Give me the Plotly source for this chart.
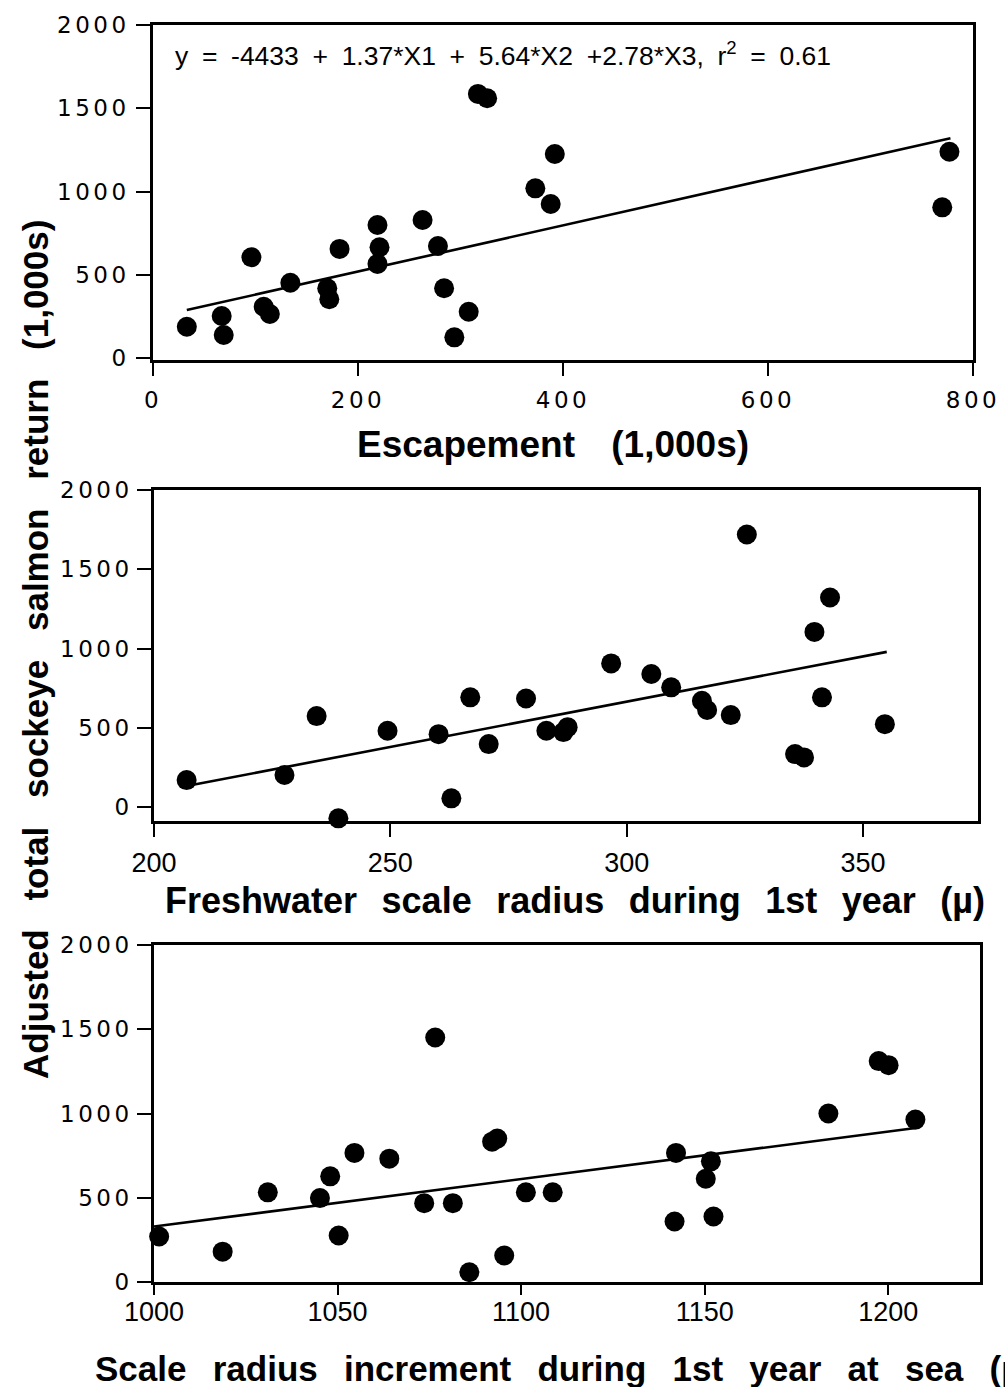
import plotly.graph_objects as go

W, H = 1005, 1387

# ---------------- data ----------------
esc = [33, 67, 69, 96, 108, 114, 121, 134, 170, 172, 182, 219, 221, 219, 263, 278,
       284, 308, 294, 317, 326, 392, 373, 388, 777, 770]
ret1 = [188, 252, 138, 605, 308, 264, -22, 452, 419, 353, 655, 799, 665, 565, 829, 673,
        419, 278, 124, 1586, 1560, 1225, 1019, 925, 1239, 905]

fw = [206.9, 227.6, 234.4, 239, 249.4, 260.2, 266.9, 270.8, 262.9, 278.7, 283, 286.6, 287.5,
      296.7, 305.2, 309.4, 315.9, 317, 322, 325.4, 343, 339.7, 341.3, 354.6, 335.6, 337.5]
ret2 = [170, 202, 574, -71, 481, 460, 692, 397, 55, 685, 481, 473, 504,
        906, 839, 755, 670, 612, 580, 1719, 1322, 1105, 692, 523, 334, 313]

sea = [1001.4, 1018.7, 1031, 1045.2, 1048, 1050.3, 1054.6, 1064.1, 1076.6, 1073.6, 1081.4,
       1085.9, 1092.1, 1093.5, 1095.4, 1101.3, 1108.6, 1142.2, 1151.7, 1150.3, 1141.8,
       1152.4, 1183.7, 1197.4, 1200.1, 1207.4]
ret3 = [270, 180, 532, 498, 627, 276, 766, 732, 1451, 468, 468, 58, 833, 851, 157, 532,
        532, 766, 716, 613, 359, 389, 1000, 1311, 1287, 964]

fit1_x = [33, 778]
fit1_y = [288, 1320]
fit2_x = [208, 355]
fit2_y = [139, 979]
fit3_x = [1000, 1208]
fit3_y = [329, 915]

y_ticks = [0, 500, 1000, 1500, 2000]
x1_ticks = [0, 200, 400, 600, 800]
x2_ticks = [200, 250, 300, 350]
x3_ticks = [1000, 1050, 1100, 1150, 1200]

equation = "y = -4433 + 1.37*X1 + 5.64*X2 +2.78*X3, r<sup>2</sup> = 0.61"
x1_title = "Escapement (1,000s)"
x2_title = "Freshwater scale radius during 1st year (µ)"
x3_title = "Scale radius increment during 1st year at sea (µ)"
y_title = "Adjusted total sockeye salmon return (1,000s)"

# ---------------- helpers ----------------
def xd(a, b):
    return [a / W, b / W]

def yd(top, bottom):
    return [1 - bottom / H, 1 - top / H]

def wide(vals):
    return ['<span style="letter-spacing:3.5px">%d</span>' % v for v in vals]

WIDE_FONT = dict(family="DejaVu Sans", size=23, color="black")
NARROW_FONT = dict(family="Liberation Sans, Arial", size=27, color="black")

def title_font(size):
    return dict(family="Liberation Sans, Arial", size=size, color="black")

fig = go.Figure()

panels = [
    (esc, ret1, fit1_x, fit1_y, "x", "y"),
    (fw, ret2, fit2_x, fit2_y, "x2", "y2"),
    (sea, ret3, fit3_x, fit3_y, "x3", "y3"),
]
for xs, ys, fx, fy, xa, ya in panels:
    fig.add_trace(go.Scatter(x=fx, y=fy, mode="lines", xaxis=xa, yaxis=ya,
                             line=dict(color="black", width=2.6), showlegend=False,
                             cliponaxis=False))
    fig.add_trace(go.Scatter(x=xs, y=ys, mode="markers", xaxis=xa, yaxis=ya,
                             marker=dict(color="black", size=20, line=dict(width=0)),
                             showlegend=False, cliponaxis=False))

common = dict(showline=True, linecolor="black", linewidth=2.6, mirror=True,
              showgrid=False, zeroline=False, ticks="outside",
              tickwidth=2.4, tickcolor="black", automargin=False)

fig.update_layout(
    template="none",
    width=W, height=H,
    margin=dict(l=0, r=0, t=0, b=0, pad=0, autoexpand=False),
    paper_bgcolor="white", plot_bgcolor="white",
    showlegend=False,
    xaxis=dict(domain=xd(153, 973), range=[0, 800], tickvals=x1_ticks,
               ticktext=wide(x1_ticks), tickfont=WIDE_FONT, anchor="y",
               ticklen=13, ticklabelstandoff=5, **common),
    yaxis=dict(domain=yd(25, 360), range=[-12, 2000], tickvals=y_ticks,
               ticktext=wide(y_ticks), tickfont=WIDE_FONT, anchor="x",
               ticklen=14, ticklabelstandoff=2, **common),
    xaxis2=dict(domain=xd(154, 978), range=[200, 374.3], tickvals=x2_ticks,
                tickfont=NARROW_FONT, anchor="y2", ticklen=13,
                ticklabelstandoff=3, **common),
    yaxis2=dict(domain=yd(490, 821), range=[-88, 2000], tickvals=y_ticks,
                ticktext=wide(y_ticks), tickfont=WIDE_FONT, anchor="x2",
                ticklen=14, ticklabelstandoff=0, **common),
    xaxis3=dict(domain=xd(154, 980), range=[1000, 1225], tickvals=x3_ticks,
                tickfont=NARROW_FONT, anchor="y3", ticklen=10,
                ticklabelstandoff=-6, **common),
    yaxis3=dict(domain=yd(945, 1282), range=[0, 2000], tickvals=y_ticks,
                ticktext=wide(y_ticks), tickfont=WIDE_FONT, anchor="x3",
                ticklen=14, ticklabelstandoff=0, **common),
)

def ann(text, x, y, font, xanchor="center", yanchor="middle", angle=0, ws=0):
    fig.add_annotation(
        text='<span style="word-spacing:%spx">%s</span>' % (ws, text) if ws else text,
        x=x / W, y=1 - y / H, xref="paper", yref="paper",
        xanchor=xanchor, yanchor=yanchor, showarrow=False,
        textangle=angle, font=font)

ann(equation, 173, 54, dict(family="Liberation Sans, Arial", size=26.5, color="black"),
    xanchor="left", ws=6.3)
ann("<b>%s</b>" % x1_title, 553, 445, title_font(37), ws=26)
ann("<b>%s</b>" % x2_title, 163, 900, title_font(36), xanchor="left", ws=14.5)
ann("<b>%s</b>" % x3_title, 93, 1368, title_font(35), xanchor="left", ws=16.5)
ann("<b>%s</b>" % y_title, 35, 650, title_font(35), angle=-90, ws=19)

fig.write_html("out.html")
